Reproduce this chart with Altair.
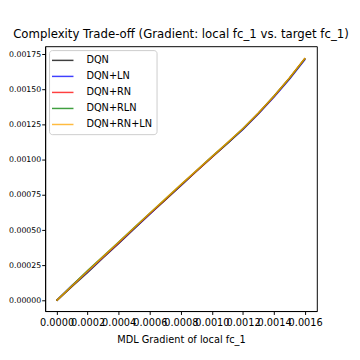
import altair as alt
import pandas as pd

series = ["DQN", "DQN+LN", "DQN+RN", "DQN+RLN", "DQN+RN+LN"]
colors = ["black", "blue", "red", "green", "orange"]

x_vals = [0.0, 0.0001, 0.0002, 0.0003, 0.0004, 0.0005, 0.0006, 0.0007, 0.0008,
          0.0009, 0.0010, 0.0011, 0.0012, 0.0013, 0.0014, 0.0015, 0.0016]

y_dqn = [0.0, 0.000100, 0.000200, 0.000305, 0.000405, 0.000510, 0.000615, 0.000715, 0.000818,
         0.000918, 0.001018, 0.001115, 0.001218, 0.001330, 0.001450, 0.001578, 0.001718]
y_ln = [0.0, 0.000108, 0.000205, 0.000308, 0.000410, 0.000512, 0.000614, 0.000718, 0.000816,
        0.000920, 0.001020, 0.001117, 0.001216, 0.001326, 0.001446, 0.001574, 0.001714]
y_rn = [0.0, 0.000104, 0.000210, 0.000310, 0.000412, 0.000515, 0.000617, 0.000716, 0.000820,
        0.000919, 0.001019, 0.001119, 0.001220, 0.001331, 0.001451, 0.001580, 0.001720]
y_rln = [0.0, 0.000106, 0.000214, 0.000314, 0.000416, 0.000518, 0.000620, 0.000720, 0.000821,
         0.000922, 0.001022, 0.001120, 0.001221, 0.001332, 0.001452, 0.001581, 0.001721]
y_rnln = [0.0, 0.000105, 0.000208, 0.000312, 0.000414, 0.000517, 0.000620, 0.000722, 0.000823,
          0.000923, 0.001022, 0.001121, 0.001222, 0.001333, 0.001453, 0.001582, 0.001722]

x_ticks = [0.0, 0.0002, 0.0004, 0.0006, 0.0008, 0.0010, 0.0012, 0.0014, 0.0016]
y_ticks = [0.0, 0.00025, 0.0005, 0.00075, 0.001, 0.00125, 0.0015, 0.00175]

rows = []
for name, ys in zip(series, [y_dqn, y_ln, y_rn, y_rln, y_rnln]):
    for i, (xv, yv) in enumerate(zip(x_vals, ys)):
        rows.append({"series": name, "x": xv, "y": yv, "i": i})
df = pd.DataFrame(rows)

FONT = "DejaVu Sans"

chart = alt.Chart(df).mark_line(strokeWidth=1.6, opacity=0.75).encode(
    x=alt.X("x:Q",
            scale=alt.Scale(domain=[-0.0000735, 0.001675], nice=False, zero=False),
            axis=alt.Axis(values=x_ticks, format=".4f", title="MDL Gradient of local fc_1",
                          grid=False, labelOverlap=False, labelBound=False, labelFlush=False,
                          tickSize=3.5, tickColor="black", domainColor="black",
                          labelColor="black", labelFontSize=10, labelFont=FONT,
                          titleFont=FONT, titleFontSize=10, titleFontWeight="normal",
                          titleColor="black", labelPadding=3.5, titlePadding=7)),
    y=alt.Y("y:Q",
            scale=alt.Scale(domain=[-0.0000742, 0.001806], nice=False, zero=False),
            axis=alt.Axis(values=y_ticks, format=".5f", title=None,
                          grid=False, labelOverlap=False, labelBound=False, labelFlush=False,
                          tickSize=3.5, tickColor="black", domainColor="black",
                          labelColor="black", labelFontSize=8, labelFont=FONT,
                          labelPadding=1)),
    color=alt.Color("series:N",
                    scale=alt.Scale(domain=series, range=colors),
                    legend=alt.Legend(title=None, orient="none", legendX=4, legendY=4,
                                      symbolType="M-2,0L2,0", symbolSize=121,
                                      symbolStrokeWidth=1.5, symbolOpacity=0.75,
                                      symbolOffset=3.5,
                                      labelFont=FONT, labelFontSize=10, labelColor="black",
                                      labelOffset=17.7, rowPadding=4.4, padding=4,
                                      labelLimit=200,
                                      strokeColor="#cccccc", fillColor="rgba(255,255,255,0.8)",
                                      cornerRadius=3)),
    order="i:Q",
).properties(
    width=278,
    height=271,
    title=alt.Title("Complexity Trade-off (Gradient: local fc_1 vs. target fc_1)",
                    font=FONT, fontSize=12, fontWeight="normal", color="black",
                    anchor="middle", offset=5),
    autosize=alt.AutoSizeParams(type="none"),
    padding={"left": 38, "top": 35, "right": 36, "bottom": 46},
).configure_view(stroke="black", strokeWidth=1)

chart.save("out.html", embed_options={"renderer": "svg", "actions": False})
